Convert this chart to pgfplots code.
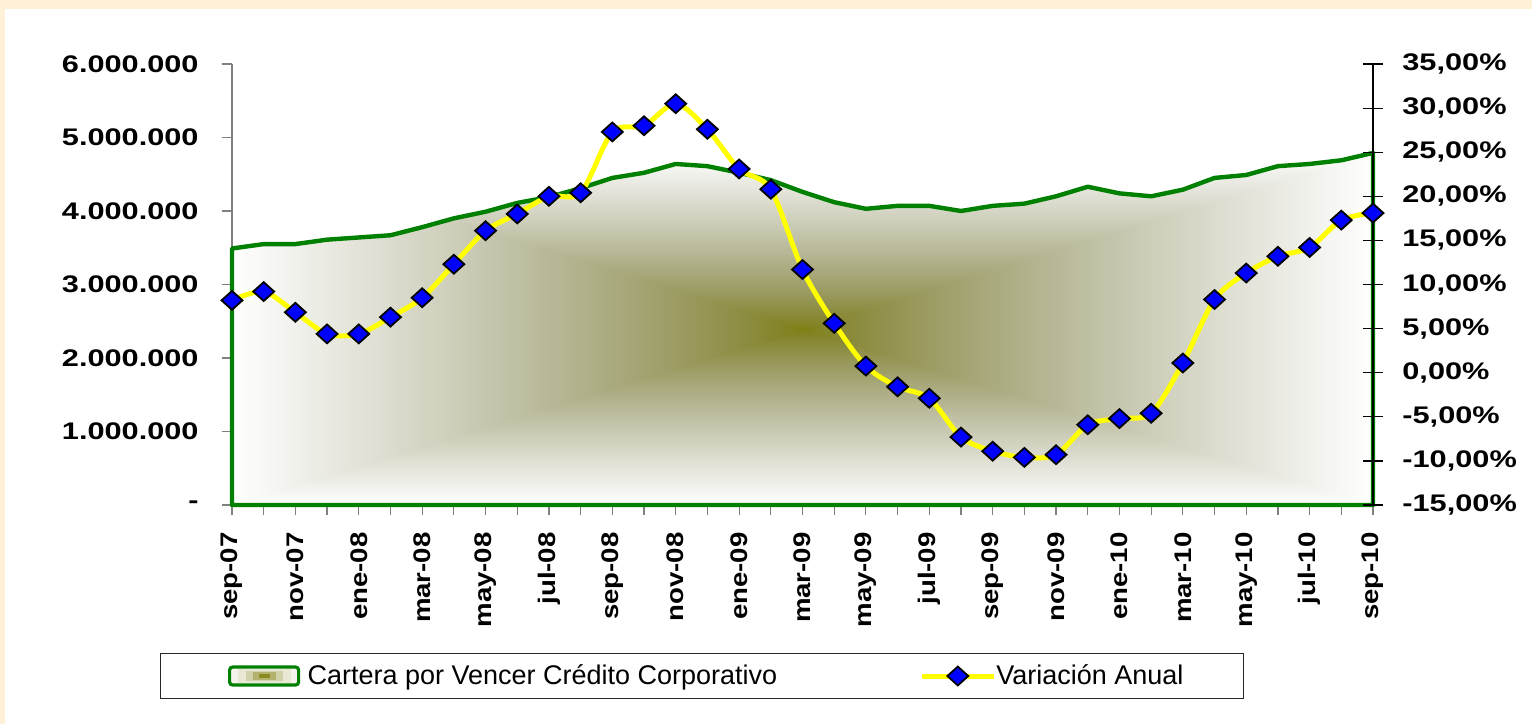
\documentclass[border=0pt]{standalone}
\usepackage{pgfplots}
\usepackage{pgfplotstable}
\pgfplotsset{compat=1.18}
\usepackage{fontspec}
\setmainfont{Liberation Sans}
\newfontfamily\ylabfont{Liberation Sans Bold}[FakeStretch=1.28]
\newfontfamily\xlabfont{Liberation Sans Bold}[FakeStretch=1.15]
\definecolor{cream}{RGB}{255,240,216}
\definecolor{cgreen}{RGB}{0,128,0}
\definecolor{cyellow}{RGB}{255,255,0}
\definecolor{cblue}{RGB}{0,0,255}
\definecolor{axgrey}{RGB}{128,128,128}
\definecolor{cbox}{RGB}{38,38,38}
\definecolor{swA}{RGB}{244,244,236}
\definecolor{swB}{RGB}{232,232,212}
\definecolor{swC}{RGB}{210,210,170}
\definecolor{swD}{RGB}{178,178,110}
\definecolor{swE}{RGB}{138,138,30}
\pgfdeclarefunctionalshading{rectgrad}{\pgfpoint{-50bp}{-50bp}}{\pgfpoint{50bp}{50bp}}{}{
abs exch abs 2 copy lt {exch} if pop 25 div dup 1 gt {pop 1} if
dup 0.5 mul 0.5 add exch dup 0.5 mul 0.5 add exch 0.7 exp 0.937 mul 0.063 add
}

\pgfplotstableread{
x y
0 3490000
1 3550000
2 3550000
3 3610000
4 3640000
5 3670000
6 3780000
7 3900000
8 3990000
9 4110000
10 4190000
11 4310000
12 4450000
13 4520000
14 4640000
15 4610000
16 4520000
17 4420000
18 4260000
19 4120000
20 4030000
21 4070000
22 4070000
23 4000000
24 4070000
25 4100000
26 4200000
27 4330000
28 4240000
29 4200000
30 4290000
31 4450000
32 4490000
33 4610000
34 4640000
35 4690000
36 4790000
}\cartera

\pgfplotstableread{
x y
0 8.2
1 9.2
2 6.85
3 4.4
4 4.4
5 6.3
6 8.5
7 12.3
8 16.1
9 18.0
10 20.0
11 20.4
12 27.3
13 28.0
14 30.5
15 27.6
16 23.1
17 20.8
18 11.7
19 5.6
20 0.75
21 -1.6
22 -2.9
23 -7.3
24 -8.9
25 -9.6
26 -9.3
27 -5.9
28 -5.2
29 -4.6
30 1.1
31 8.3
32 11.3
33 13.2
34 14.2
35 17.3
36 18.1
}\variacion

\begin{document}
\begin{tikzpicture}
\fill[cream] (0,0) rectangle (766pt,362pt);
\fill[white] (2.5pt,0) rectangle (766pt,357.5pt);

\begin{axis}[
  at={(116pt,109.5pt)}, anchor=south west,
  scale only axis, width=570.5pt, height=220.5pt,
  xmin=0, xmax=36, ymin=0, ymax=6000000,
  clip=false,
  axis x line*=bottom, axis y line*=left,
  axis line style={axgrey, line width=0.6pt},
  xtick={0,2,...,36}, minor xtick={1,3,...,35},
  xticklabels={sep-07,nov-07,ene-08,mar-08,may-08,jul-08,sep-08,nov-08,ene-09,mar-09,may-09,jul-09,sep-09,nov-09,ene-10,mar-10,may-10,jul-10,sep-10},
  xticklabel style={rotate=90, anchor=east, font=\xlabfont\fontsize{12}{12}\selectfont, inner sep=0pt},
  xticklabel shift=8.5pt,
  ytick={0,1000000,2000000,3000000,4000000,5000000,6000000},
  yticklabels={-,1.000.000,2.000.000,3.000.000,4.000.000,5.000.000,6.000.000},
  yticklabel style={font=\ylabfont\fontsize{12}{12}\selectfont, inner sep=0pt},
  yticklabel shift=11.5pt,
  scaled y ticks=false,
  tick align=outside, major tick length=5pt, minor tick length=5pt,
  tick style={axgrey, line width=0.6pt},
]
\addplot[draw=cgreen, line width=2.2pt, line join=round, shade, shading=rectgrad] table[x=x,y=y]{\cartera} \closedcycle;
\end{axis}

\begin{axis}[
  at={(116pt,109.5pt)}, anchor=south west,
  scale only axis, width=570.5pt, height=220.5pt,
  xmin=0, xmax=36, ymin=-15, ymax=35,
  clip=false,
  axis x line=none, axis y line*=right,
  axis line style={black, line width=0.6pt},
  ytick={-15,-10,-5,0,5,10,15,20,25,30,35},
  yticklabels={{-15,00\%},{-10,00\%},{-5,00\%},{0,00\%},{5,00\%},{10,00\%},{15,00\%},{20,00\%},{25,00\%},{30,00\%},{35,00\%}},
  yticklabel style={font=\ylabfont\fontsize{12}{12}\selectfont, inner sep=0pt, anchor=west},
  yticklabel shift=9.5pt,
  ytick align=center, major tick length=10pt,
  tick style={black, line width=0.6pt},
  legend columns=2,
  legend cell align=left,
  legend style={at={(-0.0631,-0.3878)}, anchor=west, draw=cbox, fill=white,
    line width=0.6pt, inner xsep=30pt, inner ysep=5.5pt,
    font=\fontsize{13.5}{13.5}\selectfont, nodes={inner sep=0pt},
    /tikz/every odd column/.append style={column sep=0pt},
    /tikz/every even column/.append style={column sep=71pt}},
]
\addlegendimage{legend image code/.code={
  \draw[swA, line width=9pt] (0pt,0pt) -- (34.5pt,0pt);
  \draw[swB, line width=7.2pt] (4pt,0pt) -- (30.5pt,0pt);
  \draw[swC, line width=5.4pt] (8pt,0pt) -- (26.5pt,0pt);
  \draw[swD, line width=3.6pt] (11.5pt,0pt) -- (23pt,0pt);
  \draw[swE, line width=1.6pt] (14.5pt,0pt) -- (20pt,0pt);
  \draw[cgreen, line width=1.6pt, rounded corners=1.5pt] (0pt,-4.5pt) rectangle (34.5pt,4.5pt);}}
\addlegendentry{Cartera por Vencer Crédito Corporativo}
\addplot[cyellow, line width=2.5pt, smooth, tension=0.5,
  mark=square*, mark size=3.7pt,
  mark options={solid, fill=cblue, draw=black, line width=0.9pt, yscale=0.9, rotate=45},
  legend image code/.code={\draw[mark repeat=2, mark phase=2] plot coordinates {(0pt,0pt) (18pt,0pt) (36pt,0pt)};}
] table[x=x,y=y]{\variacion};
\addlegendentry{Variación Anual}
\end{axis}

\pgfresetboundingbox
\path[use as bounding box] (0,0) rectangle (766pt,362pt);
\end{tikzpicture}
\end{document}
